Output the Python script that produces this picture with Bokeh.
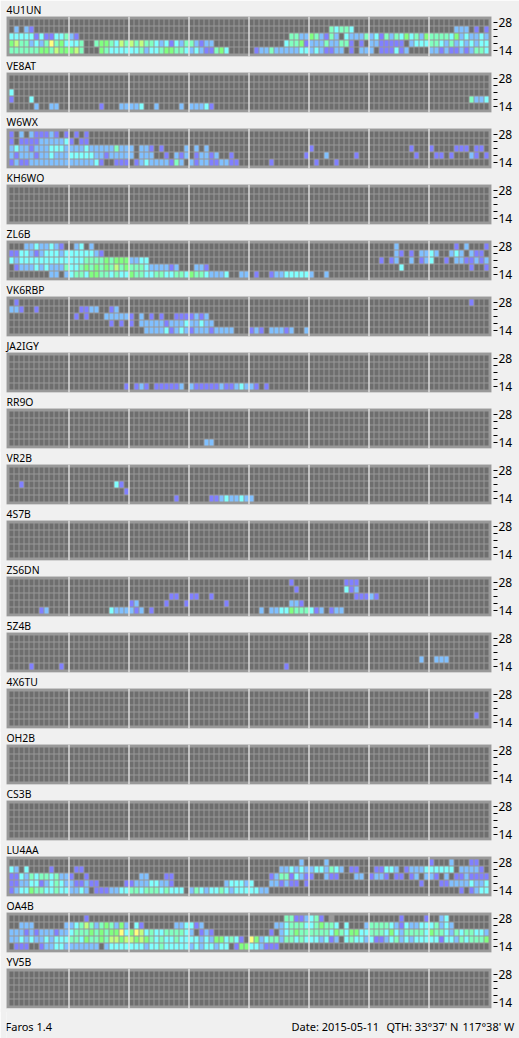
from bokeh.embed import file_html
from bokeh.resources import INLINE
from bokeh.plotting import figure
from bokeh.layouts import column
from bokeh.models import ColumnDataSource, FixedTicker, Label, Range1d, Span

FONT = "Noto Sans"
BG = "#f0f0f0"
PANEL = "#999999"
LEVEL_COLORS = {"0": "#6e6e6e", "1": "#8080ff", "2": "#80c0ff", "3": "#80ffff",
                "4": "#80ffc0", "5": "#80ff80", "6": "#c0ff80", "7": "#ffff80", "9": PANEL}
BAND_LABELS = ["14", "", "", "", "28"]

# each station: five rows top (28) to bottom (14); each row is up to eight 12-slot blocks, "." = a silent block
S_4U1UN = ["",
           "020210000000 . . . . 000043443000 . 000002220101",
           "333331311334 210000000000 . . 000000004422 542142032224 231424353425 444435232232",
           "564423247453 334004554364 646443231324 421220000000 000000034451 222422441010 221111102333 443242323233",
           "444444554655 564000543333 334233455443 232114530000 012242222233 232112201022 201113120000 221211212443"]
S_VE8AT = ["", "", "300000000000",
           "100030000000 . . . . . . 000000004223",
           "000002002200 000000100022 223002000020 222310000000"]
S_W6WX = ["102021112101 010100000000",
          "101111222223 101100000000",
          "232212223332 222322222422 202210100002 020200000000 . 100000000000 000000001000 100001110110",
          "212221223222 333332212222 202220010212 012212001000 000000000001 000200000100 000000000100 011010002101",
          "121122222222 222223100111 012322221420 212211221100 000010000000 010001000000"]
S_KH6WO = ["", "", "", "", ""]
S_ZL6B = ["000223223210 023020000000 . . . . 000002000000 000001020001",
          "113321233323 333332100000 . . . . 000002101022 320023202110",
          "323333333333 333444454555 223300000000 . . . 001012002012 300102211212",
          "012223232224 334545454645 444322221200 022100000000 . . 000000300000 000000001001",
          "000000002202 344355443433 544334433443 544322230022 010012233333 200200000000"]
S_VK6RBP = ["010000000000 . . . . . . 000000001000",
            "221001000000 001122001200",
            ". 010100022222 102010100111 121200000000",
            ". 000000001010 102222212223 223220000000",
            ". . 000222231232 122212222000 121022212002"]
S_JA2IGY = ["", "", "", "", ". 000000000001 012101111120 211111211232 210100000000"]
S_RR9O = ["", "", "", "", ". . . 000220000000"]
S_VR2B = ["", "",
          "001000000000 000000000310",
          ". 000000000001",
          ". . 000000000100 000011232232 200000000000"]
S_4S7B = ["", "", "", "", ""]
S_ZS6DN = [". . . . 000000001000 000000011100",
           ". . . . 000000000100 000000031200",
           ". . 000000001100 110010000000 . 000000000111 210000000000",
           ". . 120000010001 000000010000 000000002210",
           "000000120000 000000003222 212010000000 . 002022335444 312012200000"]
S_5Z4B = ["", "", "",
          ". . . . . . 000000000020 022200000000",
          "000010000010 . . . 000000010000"]
S_4X6TU = ["", "", "", ". . . . . . . 000000000100", ""]
S_OH2B = ["", "", "", "", ""]
S_CS3B = ["", "", "", "", ""]
S_LU4AA = [". . . . 000000000020 000200000000 . 100020001100",
           "320300001000 011000000000 . . 000000223232 233243201100 011332012223 333330222210",
           "113243443422 100100000000 002200011000 . 000012441321 100211000220 122101101202 210201121111",
           "112233123432 211211000001 122233221000 000000023332 300022121101 . 000000000010 001122223223",
           "123354433433 223201112233 443444343330 243233432333 332200000000 . . 000000101233"]
S_OA4B = [". 000100000000 . . 000000044112 341090000000 000000100001 002300000000",
          "002220000002 234642454252 031000000223 312000000000 000002234443 345443030002 444432132233 342320000000",
          "222121222122 344454545573 576343344443 201210000000 000010234544 444435435533 444353244443 544324344332",
          "223232232333 443544546656 656543433433 332325534310 752344244343 332312034332 311234232333 331332434445",
          "011100122332 222222023333 333233433333 232332330155 332111000000"]
S_YV5B = ["", "", "", "", ""]

STATIONS = [("4U1UN", S_4U1UN), ("VE8AT", S_VE8AT), ("W6WX", S_W6WX), ("KH6WO", S_KH6WO),
            ("ZL6B", S_ZL6B), ("VK6RBP", S_VK6RBP), ("JA2IGY", S_JA2IGY), ("RR9O", S_RR9O),
            ("VR2B", S_VR2B), ("4S7B", S_4S7B), ("ZS6DN", S_ZS6DN), ("5Z4B", S_5Z4B),
            ("4X6TU", S_4X6TU), ("OH2B", S_OH2B), ("CS3B", S_CS3B), ("LU4AA", S_LU4AA),
            ("OA4B", S_OA4B), ("YV5B", S_YV5B)]

FOOTER_TEXTS = ["Faros 1.4", "Date: 2015-05-11", "QTH: 33\u00b037' N", "117\u00b038' W"]
FOOTER_X = [-1, 285, 380, 456]


def expand(row):
    slots = ""
    for block in row.split():
        block = "0" * 12 if block == "." else block
        if len(block) != 12:
            raise ValueError(block)
        slots += block
    return slots.ljust(96, "0")


def panel(name, rows):
    left, right, bottom, top, color = [], [], [], [], []
    for r, row in enumerate(rows):
        band = 4 - r
        for i, level in enumerate(expand(row)):
            left.append(i)
            right.append(i + 0.8)
            bottom.append(band - 3 / 7)
            top.append(band + 3 / 7)
            color.append(LEVEL_COLORS[level])
    # the canvas runs 4px under the frame so that the "14" label's line box stays inside it;
    # the next panel starts over those 4px
    p = figure(width=519, height=60, frame_width=485, frame_height=40, title=name, margin=(0, 0, -4, 0),
               x_range=Range1d(-0.6, 96.4), y_range=Range1d(-6 / 7, 34 / 7),
               output_backend="svg", toolbar_location=None, x_axis_location=None,
               y_axis_location="right", min_border_left=6, min_border_right=28,
               min_border_top=16, min_border_bottom=4,
               background_fill_color=PANEL, border_fill_color=BG, outline_line_color=None)
    p.title.text_font = FONT
    p.title.text_font_size = "10.4px"
    p.title.text_font_style = "normal"
    p.title.text_color = "#000000"
    p.title.standoff = 0
    p.title.offset = 0
    p.grid.visible = False
    p.quad(left="left", right="right", bottom="bottom", top="top", fill_color="color", line_color=None,
           source=ColumnDataSource(dict(left=left, right=right, bottom=bottom, top=top, color=color)))
    for k in range(1, 8):
        p.add_layout(Span(location=12 * k - 0.1, dimension="height", line_color="#ffffff", line_width=1))
    ax = p.yaxis[0]
    ax.ticker = FixedTicker(ticks=list(range(5)))
    ax.major_label_overrides = {i: t for i, t in enumerate(BAND_LABELS)}
    ax.axis_line_color = None
    ax.minor_tick_line_color = None
    ax.major_tick_line_color = "#000000"
    ax.major_tick_in = -2
    ax.major_tick_out = 6
    ax.major_label_standoff = 1
    ax.major_label_text_font = FONT
    ax.major_label_text_font_size = "12px"
    ax.major_label_text_color = "#000000"
    return p


def footer():
    p = figure(width=519, height=30, frame_width=519, frame_height=30, x_range=Range1d(0, 519), y_range=Range1d(30, 0),
               output_backend="svg", toolbar_location=None, x_axis_location=None, y_axis_location=None,
               min_border=0, background_fill_color=BG, border_fill_color=BG, outline_line_color=None)
    p.grid.visible = False
    for x, text in zip(FOOTER_X, FOOTER_TEXTS):
        p.add_layout(Label(x=x, y=18, text=text, text_font=FONT, text_font_size="11px",
                           text_baseline="middle", text_color="#000000"))
    return p


figs = [panel(n, r) for n, r in STATIONS] + [footer()]
page = column(*figs, spacing=0)
open("out.html", "w").write(file_html(page, INLINE))
